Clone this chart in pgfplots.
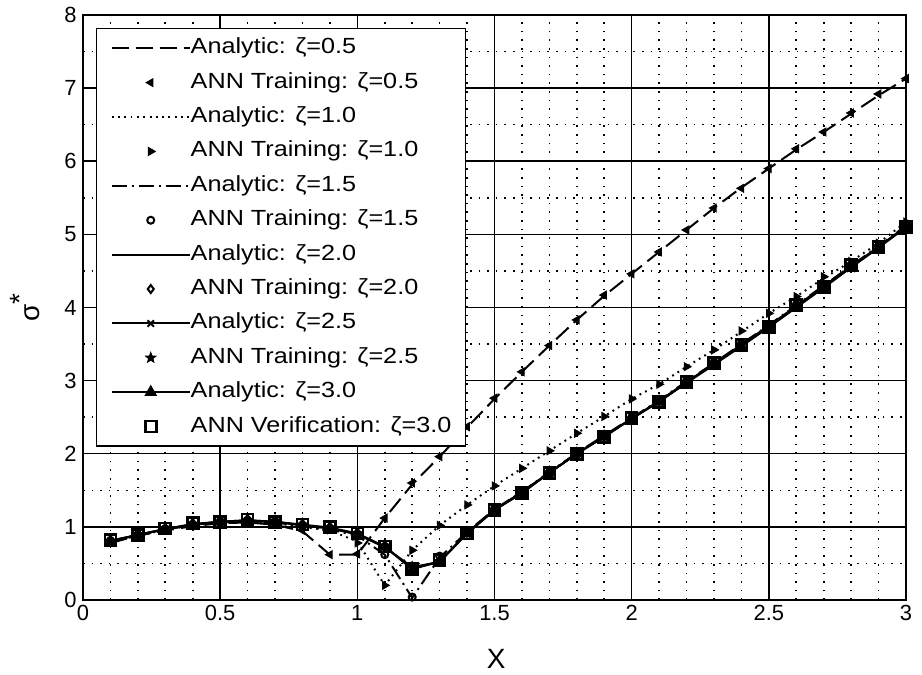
\documentclass[border=0pt]{standalone}
\usepackage{fontspec}
\setmainfont{Liberation Sans}
\newfontfamily\legfont[FakeStretch=1.15]{Liberation Sans}
\usepackage{pgfplots}
\usepackage{pgfplotstable}
\pgfplotsset{compat=1.18}
\pgfdeclareplotmark{fstar}{%
  \pgfpathmoveto{\pgfpointpolar{90}{\pgfplotmarksize}}%
  \pgfpathlineto{\pgfpointpolar{126}{0.42\pgfplotmarksize}}%
  \pgfpathlineto{\pgfpointpolar{162}{\pgfplotmarksize}}%
  \pgfpathlineto{\pgfpointpolar{198}{0.42\pgfplotmarksize}}%
  \pgfpathlineto{\pgfpointpolar{234}{\pgfplotmarksize}}%
  \pgfpathlineto{\pgfpointpolar{270}{0.42\pgfplotmarksize}}%
  \pgfpathlineto{\pgfpointpolar{306}{\pgfplotmarksize}}%
  \pgfpathlineto{\pgfpointpolar{342}{0.42\pgfplotmarksize}}%
  \pgfpathlineto{\pgfpointpolar{18}{\pgfplotmarksize}}%
  \pgfpathlineto{\pgfpointpolar{54}{0.42\pgfplotmarksize}}%
  \pgfpathclose\pgfusepathqfillstroke}
\pgfplotstableread{
x    a05  n05  a10  n10  a15  n15  a20  n20  a25  n25  a30  n30
0.1 0.78 0.79 0.79 0.80 0.80 0.80 0.80 0.81 0.81 0.81 0.81 0.82
0.2 0.88 0.88 0.88 0.89 0.89 0.89 0.89 0.89 0.89 0.90 0.89 0.89
0.3 0.95 0.96 0.96 0.96 0.96 0.97 0.97 0.97 0.97 0.97 0.97 0.98
0.4 1.01 1.02 1.02 1.02 1.03 1.03 1.03 1.03 1.03 1.04 1.04 1.05
0.5 1.05 1.06 1.06 1.06 1.06 1.07 1.07 1.07 1.07 1.07 1.07 1.07
0.6 1.06 1.07 1.07 1.08 1.08 1.09 1.08 1.09 1.09 1.09 1.09 1.10
0.7 1.03 1.04 1.05 1.06 1.06 1.07 1.07 1.07 1.07 1.08 1.07 1.07
0.8 0.94 0.95 1.00 1.01 1.01 1.02 1.02 1.03 1.02 1.03 1.03 1.03
0.9 0.62 0.62 0.95 0.96 0.96 0.97 0.98 0.99 0.98 0.99 0.99 1.00
1.0 0.62 0.63 0.80 0.78 0.88 0.89 0.90 0.91 0.90 0.91 0.91 0.92
1.1 1.12 1.12 0.20 0.20 0.62 0.62 0.72 0.72 0.73 0.74 0.73 0.73
1.2 1.58 1.60 0.68 0.68 0.03 0.04 0.45 0.46 0.43 0.44 0.42 0.42
1.3 1.96 1.96 1.02 1.02 0.58 0.60 0.52 0.53 0.52 0.53 0.53 0.55
1.4 2.36 2.37 1.30 1.30 0.93 0.94 0.92 0.92 0.91 0.91 0.91 0.91
1.5 2.75 2.76 1.56 1.56 1.24 1.25 1.23 1.24 1.23 1.23 1.23 1.23
1.6 3.12 3.12 1.80 1.80 1.48 1.49 1.48 1.48 1.47 1.47 1.46 1.46
1.7 3.48 3.48 2.04 2.04 1.75 1.75 1.74 1.74 1.74 1.74 1.74 1.74
1.8 3.83 3.83 2.28 2.28 2.01 2.02 2.00 2.00 2.00 2.00 2.00 2.00
1.9 4.16 4.17 2.51 2.51 2.25 2.26 2.24 2.24 2.24 2.24 2.23 2.23
2.0 4.46 4.46 2.75 2.75 2.49 2.50 2.48 2.48 2.48 2.48 2.48 2.49
2.1 4.76 4.76 2.95 2.95 2.73 2.74 2.72 2.72 2.72 2.72 2.71 2.71
2.2 5.06 5.06 3.19 3.19 2.99 3.00 2.98 2.98 2.97 2.97 2.97 2.98
2.3 5.36 5.36 3.42 3.42 3.24 3.25 3.23 3.23 3.22 3.22 3.22 3.24
2.4 5.64 5.63 3.67 3.68 3.50 3.51 3.49 3.49 3.48 3.48 3.47 3.49
2.5 5.90 5.90 3.92 3.92 3.76 3.77 3.75 3.75 3.74 3.74 3.73 3.73
2.6 6.16 6.17 4.15 4.15 4.03 4.04 4.02 4.02 4.01 4.01 4.00 4.03
2.7 6.40 6.40 4.40 4.42 4.30 4.31 4.29 4.29 4.28 4.28 4.27 4.28
2.8 6.65 6.66 4.63 4.63 4.57 4.58 4.56 4.56 4.55 4.55 4.55 4.58
2.9 6.90 6.92 4.88 4.88 4.84 4.85 4.83 4.83 4.82 4.82 4.82 4.83
3.0 7.13 7.13 5.17 5.17 5.12 5.13 5.11 5.11 5.10 5.10 5.10 5.10
}\data
\begin{document}
\begin{tikzpicture}
\begin{axis}[
  name=ax,
  scale only axis,
  width=823bp, height=585bp,
  xmin=0, xmax=3, ymin=0, ymax=8,
  xtick={0,0.5,...,3}, ytick={0,1,...,8},
  minor x tick num=4, minor y tick num=1,
  major tick length=0pt, minor tick length=0pt,
  grid=both,
  major grid style={black, line width=1.5bp},
  minor grid style={black, line width=1.6bp, dash pattern=on 1.6bp off 7bp},
  axis line style={black, line width=1.6bp},
  /pgf/number format/assume math mode=true,
  tick label style={font=\fontsize{22}{22}\selectfont},
  yticklabel style={xshift=-3bp},
  xticklabel style={yshift=-2bp},
  xlabel={X},
  ylabel={σ\raisebox{0.35em}{*}},
  xlabel style={at={(axis description cs:0.502,-0.1)}, anchor=center, font=\fontsize{28}{28}\selectfont},
  ylabel style={at={(axis description cs:-0.07,0.5)}, anchor=center, rotate=0, font=\fontsize{28}{28}\selectfont},
  legend cell align=left,
  legend style={
    at={(axis description cs:0.0158,0.9778)}, anchor=north west,
    draw=black, line width=1.5bp, fill=white,
    inner xsep=14bp, inner ysep=9bp,
    font=\legfont\fontsize{22}{22}\selectfont,
    row sep=13.4bp,
    nodes={inner sep=0pt, text height=16bp, text depth=5bp},
    /tikz/every even column/.append style={column sep=7bp},
  },
  legend image code/.code={\draw[mark repeat=2,mark phase=2] plot coordinates {(0bp,0bp) (39bp,0bp) (78bp,0bp)};},
]
\addplot[black, line width=2bp, dash pattern=on 17bp off 7bp] table[x=x,y=a05] {\data};
\addlegendentry{Analytic: ζ=0.5}
\addplot[black, only marks, mark=triangle*, mark size=4.5bp, mark options={rotate=90, solid, line width=1bp}] table[x=x,y=n05] {\data};
\addlegendentry{ANN Training: ζ=0.5}
\addplot[black, line width=2bp, dash pattern=on 1.8bp off 4.5bp] table[x=x,y=a10] {\data};
\addlegendentry{Analytic: ζ=1.0}
\addplot[black, only marks, mark=triangle*, mark size=4.5bp, mark options={rotate=-90, solid, line width=1bp}] table[x=x,y=n10] {\data};
\addlegendentry{ANN Training: ζ=1.0}
\addplot[black, line width=2bp, dash pattern=on 15bp off 5bp on 2bp off 5bp] table[x=x,y=a15] {\data};
\addlegendentry{Analytic: ζ=1.5}
\addplot[black, only marks, mark=o, mark size=3.5bp, mark options={solid, line width=2bp}] table[x=x,y=n15] {\data};
\addlegendentry{ANN Training: ζ=1.5}
\addplot[black, line width=2bp] table[x=x,y=a20] {\data};
\addlegendentry{Analytic: ζ=2.0}
\addplot[black, only marks, mark=diamond, mark size=4bp, mark options={solid, line width=2bp}] table[x=x,y=n20] {\data};
\addlegendentry{ANN Training: ζ=2.0}
\addplot[black, line width=2bp, mark=x, mark size=4.5bp, mark options={solid, line width=2bp}] table[x=x,y=a25] {\data};
\addlegendentry{Analytic: ζ=2.5}
\addplot[black, only marks, mark=fstar, mark size=5.5bp, mark options={solid, line width=0.8bp}] table[x=x,y=n25] {\data};
\addlegendentry{ANN Training: ζ=2.5}
\addplot[black, line width=2bp, mark=triangle*, mark size=5.5bp, mark options={solid}] table[x=x,y=a30] {\data};
\addlegendentry{Analytic: ζ=3.0}
\addplot[black, only marks, mark=square, mark size=5.5bp, mark options={solid, line width=2.6bp}] table[x=x,y=n30] {\data};
\addlegendentry{ANN Verification: ζ=3.0}
\end{axis}
\pgfresetboundingbox
\path[use as bounding box] (ax.south west) ++(-83bp,-75bp) rectangle ([xshift=16bp,yshift=15bp]ax.north east);
\end{tikzpicture}
\end{document}
